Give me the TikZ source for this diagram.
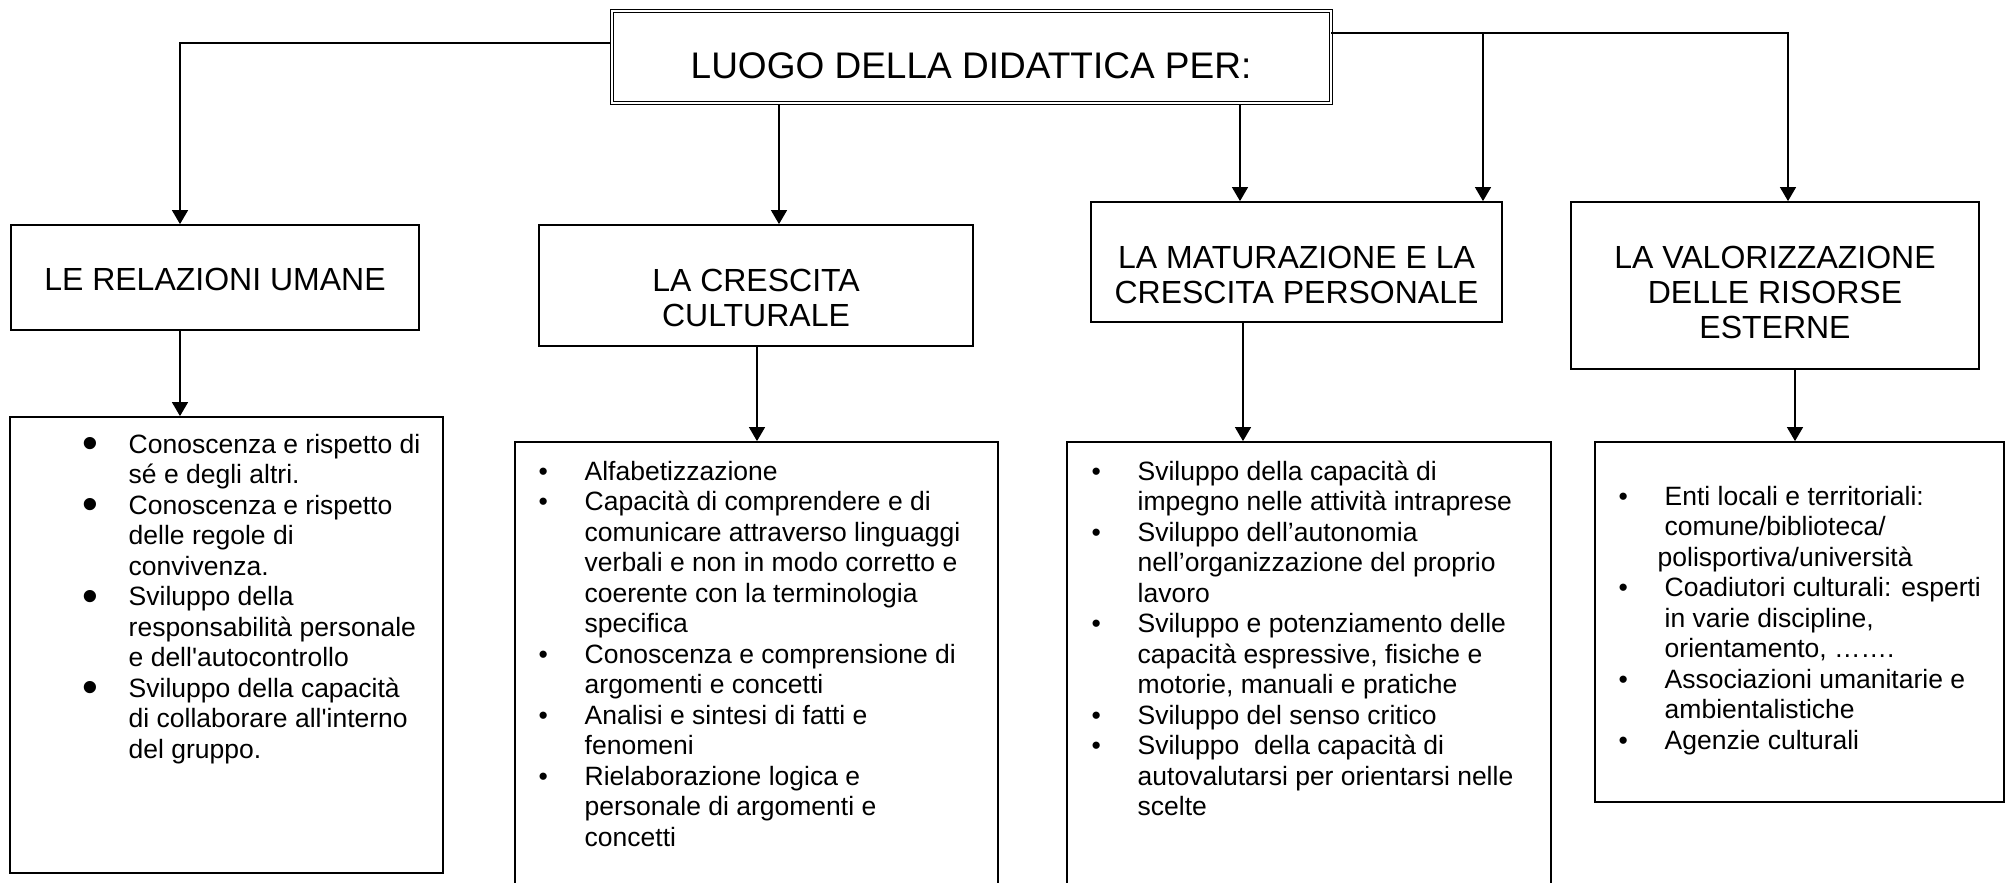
\documentclass[tikz,border=0pt]{standalone}
\usepackage{fontspec}
\setmainfont{Liberation Sans}
\usetikzlibrary{arrows.meta}
\usetikzlibrary{positioning}

\newcommand{\titolofont}{\fontsize{18.5pt}{21pt}\selectfont}
\newcommand{\areafont}{\fontsize{16pt}{17.5pt}\selectfont}
\newcommand{\elencofont}{\fontsize{13.25pt}{15.25pt}\selectfont}
\newcommand{\pallino}{\textbullet}
\newcommand{\pallone}{\raisebox{-0.22em}{\scalebox{1.7}{\textbullet}}}

\begin{document}
\begin{tikzpicture}[x=0.5pt,y=-0.5pt,->,>={Triangle[width=8pt,length=7pt]},line width=0.7pt,
  area/.style={draw,line width=0.9pt,inner sep=0pt},
  titoletto/.style={anchor=north,inner sep=0pt,align=center,font=\areafont},
  elenco/.style={anchor=base west,inner sep=0pt,font=\elencofont}]

\clip (0,0) rectangle (2009,883);

% Header
\node[draw,double,line width=0.5pt,double distance=1pt,inner sep=0pt,
  minimum width=359.5pt,minimum height=46pt] (luogo) at (971,57.5) {};
\node[anchor=north,inner sep=0pt,font=\titolofont] (luogo-t) at (971,52) {LUOGO DELLA DIDATTICA PER:};

% Areas
\node[area,minimum width=204pt,minimum height=52.5pt] (relazioni) at (215,277.5) {};
\node[area,minimum width=217pt,minimum height=60.5pt] (crescita) at (756,285.5) {};
\node[area,minimum width=205.5pt,minimum height=60pt] (maturazione) at (1296.5,262) {};
\node[area,minimum width=204pt,minimum height=83.5pt] (valore) at (1775,285.5) {};

\node[titoletto] (relazioni-t) at (215,267.5) {LE RELAZIONI UMANE};
\node[titoletto] (crescita-t) at (756,268) {LA CRESCITA\\CULTURALE};
\node[titoletto] (maturazione-t) at (1296.5,245) {LA MATURAZIONE E LA\\CRESCITA PERSONALE};
\node[titoletto] (valore-t) at (1775,245) {LA VALORIZZAZIONE\\DELLE RISORSE\\ESTERNE};

% Lists
\node[area,minimum width=216.5pt,minimum height=228pt] (elenco1) at (226.5,645) {};
\node[area,minimum width=241.5pt,minimum height=240pt] (elenco2) at (756.5,682) {};
\node[area,minimum width=242pt,minimum height=240pt] (elenco3) at (1309,682) {};
\node[area,minimum width=204.5pt,minimum height=180pt] (elenco4) at (1799.5,622) {};

\node[elenco] (testo1) at (82,453) {\begin{tabular}[t]{@{}p{23pt}@{}l@{}}
\pallone & Conoscenza e rispetto di\\
 & sé e degli altri.\\
\pallone & Conoscenza e rispetto\\
 & delle regole di\\
 & convivenza.\\
\pallone & Sviluppo della\\
 & responsabilità personale\\
 & e dell\textquotesingle autocontrollo\\
\pallone & Sviluppo della capacità\\
 & di collaborare all\textquotesingle interno\\
 & del gruppo.
\end{tabular}};

\node[elenco] (testo2) at (538,480) {\begin{tabular}[t]{@{}p{23pt}@{}l@{}}
\pallino & Alfabetizzazione\\
\pallino & Capacità di comprendere e di\\
 & comunicare attraverso linguaggi\\
 & verbali e non in modo corretto e\\
 & coerente con la terminologia\\
 & specifica\\
\pallino & Conoscenza e comprensione di\\
 & argomenti e concetti\\
\pallino & Analisi e sintesi di fatti e\\
 & fenomeni\\
\pallino & Rielaborazione logica e\\
 & personale di argomenti e\\
 & concetti
\end{tabular}};

\node[elenco] (testo3) at (1091,480) {\begin{tabular}[t]{@{}p{23pt}@{}l@{}}
\pallino & Sviluppo della capacità di\\
 & impegno nelle attività intraprese\\
\pallino & Sviluppo dell’autonomia\\
 & nell’organizzazione del proprio\\
 & lavoro\\
\pallino & Sviluppo e potenziamento delle\\
 & capacità espressive, fisiche e\\
 & motorie, manuali e pratiche\\
\pallino & Sviluppo del senso critico\\
\pallino & Sviluppo\ \ della capacità di\\
 & autovalutarsi per orientarsi nelle\\
 & scelte
\end{tabular}};

\node[elenco] (testo4) at (1618,505) {\begin{tabular}[t]{@{}p{23pt}@{}l@{}}
\pallino & Enti locali e territoriali:\\
 & comune/biblioteca/\\
 & \hspace{-3.5pt}polisportiva/università\\
\pallino & Coadiutori culturali: esperti\\
 & in varie discipline,\\
 & orientamento, …….\\
\pallino & Associazioni umanitarie e\\
 & ambientalistiche\\
\pallino & Agenzie culturali
\end{tabular}};

% Hooks for the connectors
\coordinate (g1) at (180,43);
\coordinate (g2) at (1788,33);
\coordinate (ramo) at (1483,33);
\coordinate (x2) at (779,0);
\coordinate (x3) at (1240,0);
\coordinate (y2) at (757,0);
\coordinate (y3) at (1243,0);
\coordinate (y4) at (1795,0);

% Arrows from the header
\draw (luogo.west |- g1) -| (relazioni.north -| g1);
\draw (luogo.south -| x2) -- (crescita.north -| x2);
\draw (luogo.south -| x3) -- (maturazione.north -| x3);
\draw (luogo.east |- g2) -| (valore.north -| g2);
\draw (ramo) -- (maturazione.north -| ramo);

% Arrows to the lists
\draw (relazioni.south -| g1) -- (elenco1.north -| g1);
\draw (crescita.south -| y2) -- (elenco2.north -| y2);
\draw (maturazione.south -| y3) -- (elenco3.north -| y3);
\draw (valore.south -| y4) -- (elenco4.north -| y4);

\end{tikzpicture}
\end{document}
